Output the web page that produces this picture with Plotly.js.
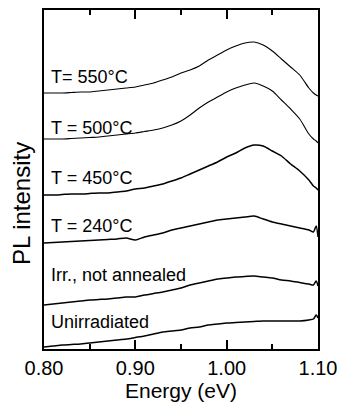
<!DOCTYPE html>
<html>
<head>
<meta charset="utf-8">
<script src="https://cdn.plot.ly/plotly-3.0.1.min.js"></script>
<style>
  html, body { margin: 0; padding: 0; background: #fff; }
  #chart { width: 341px; height: 402px; }
</style>
</head>
<body>
<div id="chart"></div>
<script>
// Photon energy (eV)
const energy = [0.80,0.81,0.82,0.83,0.84,0.85,0.86,0.87,0.88,0.89,0.90,0.91,0.92,0.93,0.94,0.95,0.96,0.97,0.98,0.99,1.00,1.01,1.02,1.03,1.04,1.05,1.06,1.07,1.08,1.09,1.095,1.098,1.10];

// PL intensity (arb. units, vertically offset)
const pl550 = [256,256,256,256.5,257,257,258,259,260,261,262,264,266,269,272,276,279,283,289,294,299,303,306,307,304,298,290,282,274,261,256,254,253];
const pl500 = [210,210,210,210.5,211,211.5,212,213,214,215,216,217.5,219,221,224,228,234,241,247,252,257,261,264,266,263,258,249,240,230,215,210,208,206];
const pl450 = [154,154,154.5,155,155,155.5,156,156,157,158,160,161,163,165,168,171,175,179,183,187,192,196,201,204,203,198,193,185,178,169,163,161,159];
const pl240 = [106,106.5,107,107.5,108,108.5,109,109.5,110,111,109,112,114,116,119,121,123,125,127,129,130,131,132,133,130,127,125,123,121,119,117,123,112];
const plIrr = [44,45,46,47,48,49,49.5,50,51,52,52,54,55.5,57,59,61,64,66,68,70,71,72,72.5,73,72,71,69,68,66.5,65,64,68,63];
const plUnirr = [2,3,4,4.5,5,6,7,8,9,10,11.5,13,15,17,18,19,21,22,24,25,26,26.5,27,27.5,28,28,28,28,28,29,30,34,31];

const seriesNames = ["T= 550°C","T = 500°C","T = 450°C","T = 240°C","Irr., not annealed","Unirradiated"];
const seriesData = [pl550, pl500, pl450, pl240, plIrr, plUnirr];
const labelE = [0.806, 0.806, 0.806, 0.806, 0.806, 0.806];
const labelI = [272, 221, 171, 123, 74, 27];

const FONT = 'Liberation Sans';

const traces = seriesData.map((d, i) => ({
  x: energy, y: d, type: 'scatter', mode: 'lines',
  name: seriesNames[i],
  line: {color: '#000', width: i < 2 ? 1.1 : 1.5, shape: 'spline', smoothing: 0.7},
  hoverinfo: 'skip'
}));

const annotations = seriesNames.map((t, i) => ({
  x: labelE[i], y: labelI[i], xref: 'x', yref: 'y',
  text: t, showarrow: false, xanchor: 'left', yanchor: 'middle',
  font: {family: FONT, size: 18, color: '#000'}
}));
annotations.push({
  x: -0.08, y: 0.428, xref: 'paper', yref: 'paper',
  text: 'PL intensity', textangle: -90, showarrow: false,
  xanchor: 'center', yanchor: 'middle',
  font: {family: FONT, size: 24, color: '#000'}
});

const layout = {
  width: 341, height: 402,
  margin: {l: 44, r: 23, t: 10, b: 53},
  paper_bgcolor: '#fff', plot_bgcolor: '#fff',
  showlegend: false,
  font: {family: FONT, color: '#000'},
  xaxis: {
    range: [0.8, 1.1], tickmode: 'linear', tick0: 0.8, dtick: 0.1, tickformat: '.2f',
    ticks: 'inside', ticklen: 9, tickwidth: 1.8, tickcolor: '#000',
    minor: {tickmode: 'linear', tick0: 0.8, dtick: 0.05, ticks: 'inside', ticklen: 5, tickwidth: 1.8, tickcolor: '#000'},
    showline: true, linecolor: '#000', linewidth: 1.8, mirror: 'ticks',
    showgrid: false, zeroline: false,
    tickfont: {family: FONT, size: 20},
    title: {text: 'Energy (eV)', font: {family: FONT, size: 21}, standoff: 0}
  },
  yaxis: {
    range: [0, 339], showticklabels: false, ticks: '',
    showline: true, linecolor: '#000', linewidth: 1.8, mirror: true,
    showgrid: false, zeroline: false
  },
  annotations: annotations
};

Plotly.newPlot('chart', traces, layout, {staticPlot: true, displayModeBar: false});
</script>
</body>
</html>
